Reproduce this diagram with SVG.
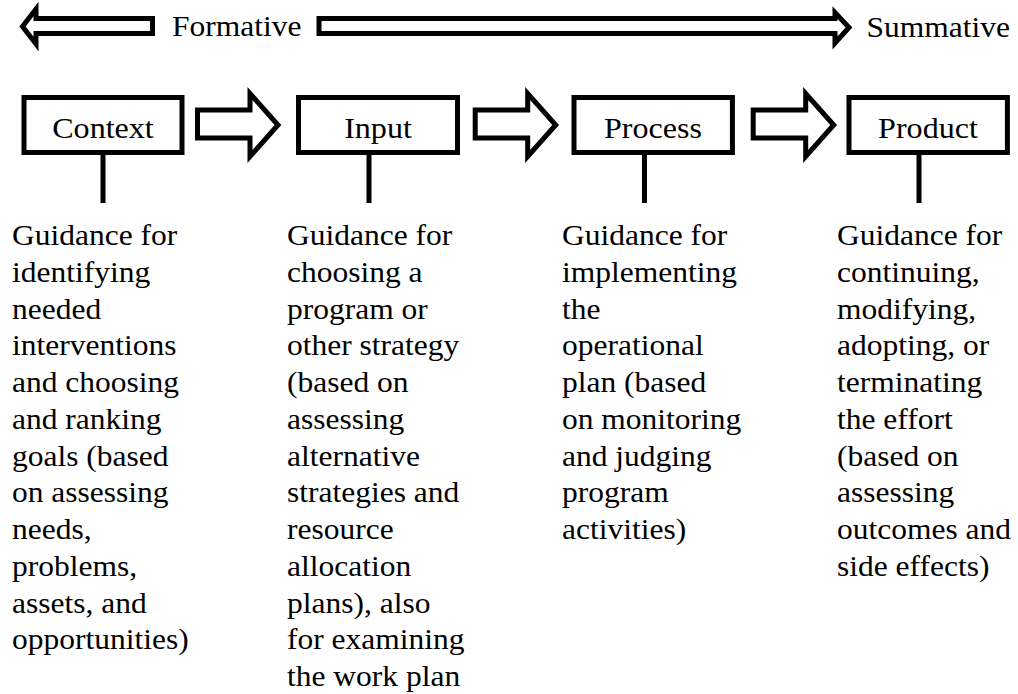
<svg xmlns="http://www.w3.org/2000/svg" width="1018" height="694" viewBox="0 0 1018 694">
  <style>
    text { font-family: 'Liberation Serif', 'Times New Roman', Times, serif; fill: #000; }
    .body { font-size: 30px; }
    .label { font-size: 30px; text-anchor: middle; }
    .axis { font-size: 30px; }
    .box { fill: #fff; stroke: #000; stroke-width: 5; }
    .blk { fill: #fff; stroke: #000; stroke-width: 5; stroke-linejoin: miter; stroke-miterlimit: 10; }
    .stem { stroke: #000; stroke-width: 5; fill: none; }
  </style>
  <defs>
    <path id="blockArrow" d="M2.5,110 H55 V93.5 L83,125 L55,156.5 V138 H2.5 Z"/>
  </defs>
  <rect width="1018" height="694" fill="#fff"/>

  <!-- formative / summative axis -->
  <g id="axis">
    <path class="blk" d="M152.5,18.5 H36 V9 L22.5,26.5 L36,44 V33.5 H152.5 Z"/>
    <text class="axis" transform="matrix(1.05 0 0 1 172 35.5)" x="0" y="0">Formative</text>
    <path class="blk" d="M319,18.5 H835 V12.5 L849,27.5 L835,43 V33.5 H319 Z"/>
    <text class="axis" transform="matrix(1.05 0 0 1 866.5 37)" x="0" y="0">Summative</text>
  </g>

  <!-- connectors: block arrows between stages and stems to descriptions -->
  <g id="connectors">
    <use href="#blockArrow" class="blk" transform="translate(195 0)"/>
    <use href="#blockArrow" class="blk" transform="translate(472.7 0)"/>
    <use href="#blockArrow" class="blk" transform="translate(750.7 0)"/>
    <line class="stem" x1="103" y1="152" x2="103" y2="203"/>
    <line class="stem" x1="369" y1="152" x2="369" y2="203"/>
    <line class="stem" x1="644.5" y1="152" x2="644.5" y2="203"/>
    <line class="stem" x1="919" y1="152" x2="919" y2="203"/>
  </g>

  <g id="context">
    <rect class="box" x="24" y="97.5" width="158" height="55"/>
    <text class="label" transform="matrix(1.07 0 0 1 103 138)" x="0" y="0">Context</text>
    <text class="body" transform="matrix(1.05 0 0 1 12 0)">
      <tspan x="0" y="245.3">Guidance for</tspan>
      <tspan x="0" y="282">identifying</tspan>
      <tspan x="0" y="318.8">needed</tspan>
      <tspan x="0" y="355.5">interventions</tspan>
      <tspan x="0" y="392.3">and choosing</tspan>
      <tspan x="0" y="429">and ranking</tspan>
      <tspan x="0" y="465.8">goals (based</tspan>
      <tspan x="0" y="502.5">on assessing</tspan>
      <tspan x="0" y="539.3">needs,</tspan>
      <tspan x="0" y="576">problems,</tspan>
      <tspan x="0" y="612.8">assets, and</tspan>
      <tspan x="0" y="649.5">opportunities)</tspan>
    </text>
  </g>

  <g id="input">
    <rect class="box" x="298.5" y="97.5" width="159" height="55"/>
    <text class="label" transform="matrix(1.07 0 0 1 378 138)" x="0" y="0">Input</text>
    <text class="body" transform="matrix(1.05 0 0 1 287 0)">
      <tspan x="0" y="245.3">Guidance for</tspan>
      <tspan x="0" y="282">choosing a</tspan>
      <tspan x="0" y="318.8">program or</tspan>
      <tspan x="0" y="355.5">other strategy</tspan>
      <tspan x="0" y="392.3">(based on</tspan>
      <tspan x="0" y="429">assessing</tspan>
      <tspan x="0" y="465.8">alternative</tspan>
      <tspan x="0" y="502.5">strategies and</tspan>
      <tspan x="0" y="539.3">resource</tspan>
      <tspan x="0" y="576">allocation</tspan>
      <tspan x="0" y="612.8">plans), also</tspan>
      <tspan x="0" y="649.5">for examining</tspan>
      <tspan x="0" y="686.3">the work plan</tspan>
    </text>
  </g>

  <g id="process">
    <rect class="box" x="574" y="97.5" width="158.4" height="55"/>
    <text class="label" transform="matrix(1.07 0 0 1 653 138)" x="0" y="0">Process</text>
    <text class="body" transform="matrix(1.05 0 0 1 562 0)">
      <tspan x="0" y="245.3">Guidance for</tspan>
      <tspan x="0" y="282">implementing</tspan>
      <tspan x="0" y="318.8">the</tspan>
      <tspan x="0" y="355.5">operational</tspan>
      <tspan x="0" y="392.3">plan (based</tspan>
      <tspan x="0" y="429">on monitoring</tspan>
      <tspan x="0" y="465.8">and judging</tspan>
      <tspan x="0" y="502.5">program</tspan>
      <tspan x="0" y="539.3">activities)</tspan>
    </text>
  </g>

  <g id="product">
    <rect class="box" x="849" y="97.5" width="158.4" height="55"/>
    <text class="label" transform="matrix(1.07 0 0 1 928 138)" x="0" y="0">Product</text>
    <text class="body" transform="matrix(1.05 0 0 1 837 0)">
      <tspan x="0" y="245.3">Guidance for</tspan>
      <tspan x="0" y="282">continuing,</tspan>
      <tspan x="0" y="318.8">modifying,</tspan>
      <tspan x="0" y="355.5">adopting, or</tspan>
      <tspan x="0" y="392.3">terminating</tspan>
      <tspan x="0" y="429">the effort</tspan>
      <tspan x="0" y="465.8">(based on</tspan>
      <tspan x="0" y="502.5">assessing</tspan>
      <tspan x="0" y="539.3">outcomes and</tspan>
      <tspan x="0" y="576">side effects)</tspan>
    </text>
  </g>
</svg>
